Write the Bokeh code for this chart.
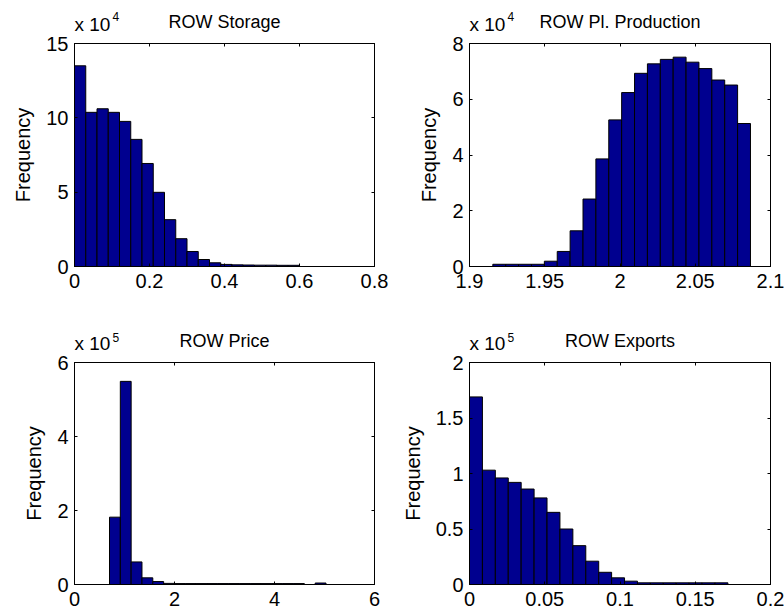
import numpy as np
from bokeh.plotting import figure
from bokeh.models import Range1d, FixedTicker, LinearAxis
from bokeh.core.properties import value
from bokeh.layouts import column, row
from bokeh.embed import file_html
from bokeh.resources import INLINE

# Histogram data: 20 equal-width bins spanning [lo, hi], counts per bin
storage_range = (0.0, 0.6)
storage_counts = [135000, 103700, 106100, 103700, 97600, 85500, 69300, 49900,
                  31500, 18700, 10100, 4700, 2500, 1400, 1100, 1000, 900, 900,
                  800, 800]

production_range = (1.9155, 2.0867)
production_counts = [800, 800, 800, 800, 1900, 5400, 12800, 24200, 38600, 52600,
                     62400, 69300, 72700, 74300, 75100, 73300, 71000, 66900,
                     65100, 51300]

price_range = (0.70, 5.03)
price_counts = [182000, 549000, 61000, 18000, 8000, 3000, 2500, 2500, 2500, 2500,
                2500, 2500, 2500, 2500, 2500, 2500, 2500, 2500, 0, 4000]

exports_range = (0.0, 0.1717)
exports_counts = [169000, 103000, 96000, 92000, 86000, 78000, 65000, 50000, 35000,
                  21000, 11000, 6000, 3000, 1500, 1500, 1500, 1500, 1500, 1500, 1500]

# Axis ticks and their labels
storage_xticks = [0, 0.2, 0.4, 0.6, 0.8]
storage_xlabels = ["0", "0.2", "0.4", "0.6", "0.8"]
storage_yticks = [0, 5, 10, 15]
storage_ylabels = ["0", "5", "10", "15"]

production_xticks = [1.9, 1.95, 2.0, 2.05, 2.1]
production_xlabels = ["1.9", "1.95", "2", "2.05", "2.1"]
production_yticks = [0, 2, 4, 6, 8]
production_ylabels = ["0", "2", "4", "6", "8"]

price_xticks = [0, 2, 4, 6]
price_xlabels = ["0", "2", "4", "6"]
price_yticks = [0, 2, 4, 6]
price_ylabels = ["0", "2", "4", "6"]

exports_xticks = [0, 0.05, 0.1, 0.15, 0.2]
exports_xlabels = ["0", "0.05", "0.1", "0.15", "0.2"]
exports_yticks = [0, 0.5, 1, 1.5, 2]
exports_ylabels = ["0", "0.5", "1", "1.5", "2"]

FONT = "Liberation Sans"
BAR_COLOR = "#00008F"


def style_axis(axis, ticks, labels=None):
    axis.ticker = FixedTicker(ticks=ticks)
    axis.minor_tick_line_color = None
    axis.major_tick_in = 3
    axis.major_tick_out = 0
    axis.axis_line_color = "black"
    axis.major_tick_line_color = "black"
    if labels is None:
        # tick marks only (top/right edges of the box)
        axis.major_label_overrides = {t: "" for t in ticks}
        axis.major_label_standoff = 0
    else:
        axis.major_label_overrides = {t: s for t, s in zip(ticks, labels)}
        axis.major_label_text_font = FONT
        axis.major_label_text_font_size = "20px"
        axis.major_label_text_color = "black"


def hist_panel(rng, counts, exponent, xticks, xlabels, yticks, ylabels,
               width, height, borders):
    left, right, top, bottom = borders
    scale = 10 ** exponent
    p = figure(width=width, height=height, output_backend="svg",
               toolbar_location=None, title_location=None,
               x_range=Range1d(xticks[0], xticks[-1]),
               y_range=Range1d(yticks[0], yticks[-1]),
               min_border_left=left, min_border_right=right,
               min_border_top=top, min_border_bottom=bottom,
               x_axis_location=None, y_axis_location=None)
    p.grid.visible = False
    p.outline_line_color = "black"

    edges = np.linspace(rng[0], rng[1], len(counts) + 1)
    heights = np.asarray(counts, dtype=float) / scale
    p.quad(left=edges[:-1], right=edges[1:], bottom=0, top=heights,
           fill_color=BAR_COLOR, line_color="black", line_width=1)

    xb = LinearAxis()
    style_axis(xb, xticks, xlabels)
    xb.major_label_standoff = 7
    p.add_layout(xb, "below")

    yl = LinearAxis(axis_label="Frequency")
    style_axis(yl, yticks, ylabels)
    yl.major_label_standoff = 6
    yl.axis_label_text_font = FONT
    yl.axis_label_text_font_size = "20px"
    yl.axis_label_text_font_style = "normal"
    yl.axis_label_text_color = "black"
    yl.axis_label_standoff = 9
    p.add_layout(yl, "left")

    xt = LinearAxis()
    style_axis(xt, xticks)
    p.add_layout(xt, "above")

    yr = LinearAxis()
    style_axis(yr, yticks)
    p.add_layout(yr, "right")
    return p


def header(title, exponent, xticks, width, height, borders, rises):
    """Strip above a panel holding its title and the 'x 10^n' multiplier.

    rises: vertical centres (px above the strip's bottom) of the title,
    the 'x 10' text and the exponent.
    """
    left, right = borders
    x0, x1 = xticks[0], xticks[-1]
    per_px = (x1 - x0) / (width - left - right)
    h = figure(width=width, height=height, output_backend="svg",
               toolbar_location=None, title_location=None,
               x_range=Range1d(x0 - left * per_px, x1 + right * per_px),
               y_range=Range1d(0, height),
               min_border_left=0, min_border_right=0,
               min_border_top=0, min_border_bottom=0,
               x_axis_location=None, y_axis_location=None)
    h.grid.visible = False
    h.outline_line_color = None
    title_y, mult_y, exp_y = rises
    h.text(x=[(x0 + x1) / 2], y=[title_y], text=[title], text_align="center",
           text_baseline="middle", text_font=value(FONT),
           text_font_size="18px", text_color="black")
    h.text(x=[x0], y=[mult_y], text=["x 10"], text_align="left",
           text_baseline="middle", text_font=value(FONT),
           text_font_size="19px", text_color="black")
    h.text(x=[x0], y=[exp_y], x_offset=38, text=[str(exponent)],
           text_align="left", text_baseline="middle",
           text_font=value(FONT), text_font_size="12px", text_color="black")
    return h


LEFT_A, RIGHT_A = 74, 18
LEFT_B, RIGHT_B = 77, 14
TOP_GAP = 8  # room above each box for the top tick label

h1 = header("ROW Storage", 4, storage_xticks, 392, 43 - TOP_GAP,
            (LEFT_A, RIGHT_A), (13.3, 10.6, 19.2))
h2 = header("ROW Pl. Production", 4, production_xticks, 392, 43 - TOP_GAP,
            (LEFT_B, RIGHT_B), (13.3, 10.6, 19.2))
p1 = hist_panel(storage_range, storage_counts, 4, storage_xticks, storage_xlabels,
                storage_yticks, storage_ylabels, 392, 264 + TOP_GAP,
                (LEFT_A, RIGHT_A, TOP_GAP, 41))
p2 = hist_panel(production_range, production_counts, 4, production_xticks,
                production_xlabels, production_yticks, production_ylabels,
                392, 264 + TOP_GAP, (LEFT_B, RIGHT_B, TOP_GAP, 41))

h3 = header("ROW Price", 5, price_xticks, 392, 55 - TOP_GAP,
            (LEFT_A, RIGHT_A), (13.3, 10.6, 17.0))
h4 = header("ROW Exports", 5, exports_xticks, 392, 55 - TOP_GAP,
            (LEFT_B, RIGHT_B), (13.3, 10.6, 17.0))
p3 = hist_panel(price_range, price_counts, 5, price_xticks, price_xlabels,
                price_yticks, price_ylabels, 392, 253 + TOP_GAP,
                (LEFT_A, RIGHT_A, TOP_GAP, 31))
p4 = hist_panel(exports_range, exports_counts, 5, exports_xticks, exports_xlabels,
                exports_yticks, exports_ylabels, 392, 253 + TOP_GAP,
                (LEFT_B, RIGHT_B, TOP_GAP, 31))

layout = column(row(h1, h2), row(p1, p2), row(h3, h4), row(p3, p4))
open("out.html", "w").write(file_html(layout, INLINE))
